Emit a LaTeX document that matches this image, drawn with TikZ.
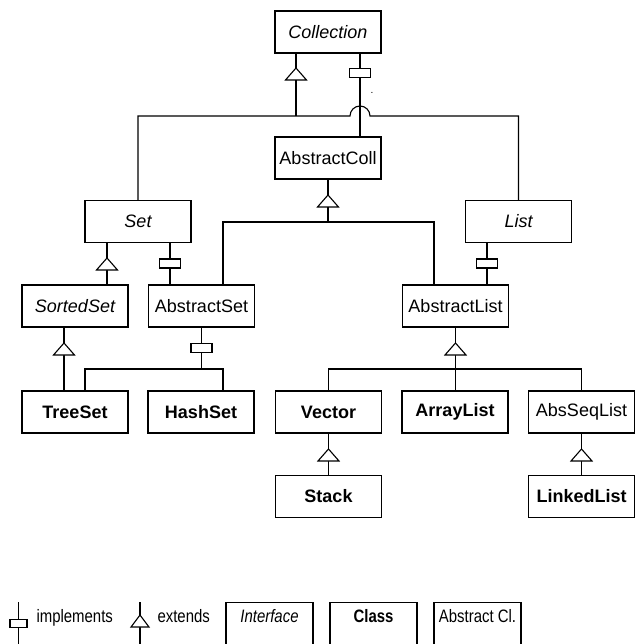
\documentclass[tikz,border=0pt]{standalone}
\usepackage{fontspec}
\setmainfont{Liberation Sans}
\begin{document}
\begin{tikzpicture}[x=1pt,y=-1pt,
  every path/.style={line width=1.1pt},
  box/.style={draw, line width=1.1pt, minimum width=106pt, minimum height=42pt, inner sep=0pt,
    font=\fontsize{18}{20}\selectfont},
  iface/.style={box, font=\fontsize{18}{20}\selectfont\itshape},
  cls/.style={box, font=\fontsize{18}{20}\selectfont\bfseries},
  legbox/.style={draw, line width=1.1pt, anchor=north, minimum width=87pt, inner xsep=0pt, inner ysep=0pt,
    text height=20pt, text depth=24pt, font=\fontsize{18}{20}\selectfont},
  legtxt/.style={anchor=base west, inner sep=0pt, font=\fontsize{18}{20}\selectfont},
  extri/.pic={\draw[fill=white, line width=1.1pt] (0,0) -- (-10.5,12) -- (10.5,12) -- cycle;},
  implrect/.pic={\draw[fill=white, line width=1.1pt] (-10.5,-4.5) rectangle (10.5,4.5);},
  legtri/.pic={\draw[fill=white, line width=1.1pt] (0,0) -- (-9,12) -- (9,12) -- cycle;},
  legrect/.pic={\draw[fill=white, line width=1.1pt] (-8.5,-4) rectangle (8.5,4);}
]
\useasboundingbox (0,0) rectangle (637,644);

% nodes
\node[iface] (coll)  at (328,32)    {Collection};
\node[box]   (acoll) at (328,158)   {AbstractColl};
\node[iface] (set)   at (138,221.5) {Set};
\node[iface] (list)  at (518.5,221.5) {List};
\node[iface] (sset)  at (75,306)    {SortedSet};
\node[box]   (aset)  at (201.5,306) {AbstractSet};
\node[box]   (alist) at (455.5,306) {AbstractList};
\node[cls]   (tset)  at (75,412)    {TreeSet};
\node[cls]   (hset)  at (201,412)   {HashSet};
\node[cls]   (vec)   at (328.5,412) {Vector};
\node[cls]   (alst)  at (455,412)   {ArrayList};
\node[box]   (asl)   at (581.5,412) {AbsSeqList};
\node[cls]   (stack) at (328.5,496.5) {Stack};
\node[cls]   (llist) at (581.5,496.5) {LinkedList};

\coordinate (busTop) at (0,116);
\coordinate (hopL) at (350,116);
\coordinate (hopR) at (370,116);
\coordinate (busA) at (0,222);
\coordinate (busS) at (0,369);

% Collection -> Set / List (extends) with hop
\draw ([xshift=-32]coll.south) -- ([xshift=-32]coll.south |- busTop);
\draw (set.north) |- (hopL) arc[start angle=180, end angle=0, radius=10pt] -- (hopR) -| (list.north);
\pic at (296,68) {extri};
% Collection -> AbstractColl (implements)
\draw ([xshift=32]coll.south) -- ([xshift=32]coll.south |- acoll.north);
\pic at (360,73) {implrect};
\node[inner sep=0pt, font=\fontsize{10}{10}\selectfont] (dot) at (372,93) {.};

% AbstractColl -> AbstractSet / AbstractList
\draw (acoll.south) -- (acoll.south |- busA);
\draw ([xshift=21.5]aset.north) |- ([xshift=-21.5]alist.north |- busA) -- ([xshift=-21.5]alist.north);
\pic at (328,195) {extri};

% Set -> SortedSet, AbstractSet
\draw ([xshift=32]sset.north) -- ([xshift=32]sset.north |- set.south);
\pic at (107,258) {extri};
\draw ([xshift=32]set.south) -- ([xshift=32]set.south |- aset.north);
\pic at (170,263.5) {implrect};

% List -> AbstractList
\draw ([xshift=-31.5]list.south) -- ([xshift=-31.5]list.south |- alist.north);
\pic at (487,263.5) {implrect};

% SortedSet -> TreeSet
\draw ([xshift=-11]sset.south) -- ([xshift=-11]tset.north);
\pic at (64,343) {extri};

% AbstractSet -> TreeSet, HashSet
\draw (aset.south) -- (aset.south |- busS);
\draw ([xshift=10]tset.north) |- ([xshift=22]hset.north |- busS) -- ([xshift=22]hset.north);
\pic at (201.5,348) {implrect};

% AbstractList -> Vector, ArrayList, AbsSeqList
\draw (alist.south) -- (alist.south |- alst.north);
\draw (vec.north) |- (asl.north |- busS) -- (asl.north);
\pic at (455.5,343) {extri};

% Vector -> Stack, AbsSeqList -> LinkedList
\draw (vec.south) -- (stack.north);
\pic at (328.5,449) {extri};
\draw (asl.south) -- (llist.north);
\pic at (581.5,449) {extri};

% legend
\coordinate (li1) at (18.5,602);
\coordinate (li2) at (18.5,648);
\draw (li1) -- (li2);
\pic at (18.5,623.5) {legrect};
\node[legtxt] (limpl) at (36,622) {\scalebox{0.83}[1]{implements}};
\coordinate (le1) at (140,602);
\coordinate (le2) at (140,648);
\draw (le1) -- (le2);
\pic at (140,615) {legtri};
\node[legtxt] (lext) at (157,622) {\scalebox{0.83}[1]{extends}};
\node[legbox] (lint) at (269.5,602) {\itshape\scalebox{0.83}[1]{Interface}};
\node[legbox] (lcls) at (373.5,602) {\bfseries\scalebox{0.83}[1]{Class}};
\node[legbox] (labs) at (477.5,602) {\scalebox{0.83}[1]{Abstract Cl.}};
\end{tikzpicture}
\end{document}
